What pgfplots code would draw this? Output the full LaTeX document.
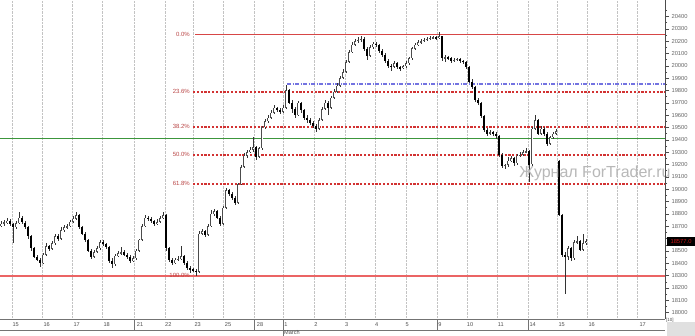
\documentclass[border=0pt]{standalone}
\usepackage{pgfplots}
\pgfplotsset{compat=1.18}
\usepackage{pgfplotstable}
\usepackage{fontspec}
\setmainfont{Liberation Sans}
\definecolor{fiblab}{RGB}{185,70,70}
\definecolor{fibtop}{RGB}{215,70,70}
\definecolor{fibdash}{RGB}{210,50,50}
\definecolor{fiblow}{RGB}{235,100,100}
\definecolor{supgreen}{RGB}{60,150,60}
\definecolor{bluedd}{RGB}{115,115,225}
\definecolor{gridc}{RGB}{195,195,195}
\pgfplotstableread{
x o h l c
1 18700 18740 18690 18720
4 18720 18750 18705 18730
7 18730 18770 18720 18745
10 18745 18760 18700 18720
13 18720 18730 18560 18690
16 18690 18740 18680 18725
19 18725 18815 18715 18770
22 18770 18780 18715 18730
25 18730 18745 18680 18690
28 18690 18700 18600 18620
31 18620 18630 18500 18520
34 18520 18535 18440 18450
37 18450 18470 18415 18430
40 18430 18445 18370 18400
43 18400 18480 18390 18470
46 18470 18560 18460 18540
49 18540 18550 18495 18515
52 18515 18580 18505 18560
55 18560 18640 18550 18620
58 18620 18635 18580 18600
61 18600 18690 18590 18670
64 18670 18710 18650 18690
67 18690 18720 18675 18700
70 18700 18750 18690 18735
73 18735 18780 18725 18760
76 18760 18815 18750 18790
79 18790 18800 18680 18690
82 18690 18705 18625 18640
85 18640 18655 18575 18590
88 18590 18600 18490 18500
91 18500 18515 18435 18450
94 18450 18505 18440 18490
97 18490 18540 18480 18520
100 18520 18590 18510 18570
103 18570 18590 18540 18555
106 18555 18565 18515 18530
109 18530 18540 18405 18420
112 18420 18440 18360 18390
115 18390 18475 18380 18460
118 18460 18500 18450 18480
121 18480 18530 18470 18490
124 18490 18505 18455 18470
127 18470 18485 18435 18450
130 18450 18465 18405 18420
133 18420 18455 18410 18440
136 18440 18515 18430 18500
139 18500 18600 18490 18590
142 18590 18720 18580 18700
145 18700 18790 18690 18770
148 18770 18785 18740 18760
151 18760 18775 18725 18740
154 18740 18750 18705 18720
157 18720 18755 18710 18735
160 18735 18785 18725 18765
163 18765 18815 18755 18790
166 18790 18795 18500 18520
169 18520 18530 18410 18430
172 18430 18445 18385 18400
175 18400 18445 18390 18430
178 18430 18460 18415 18435
181 18435 18540 18425 18455
184 18455 18470 18385 18400
187 18400 18415 18345 18360
190 18360 18375 18320 18350
193 18350 18365 18325 18340
196 18340 18350 18300 18330
199 18330 18660 18320 18640
202 18640 18680 18625 18660
205 18660 18670 18610 18630
208 18630 18715 18620 18700
211 18700 18830 18690 18800
214 18800 18840 18785 18820
217 18820 18830 18755 18770
220 18770 18780 18705 18720
223 18720 18860 18710 18850
226 18850 19010 18840 18990
229 18990 19000 18945 18960
232 18960 18975 18915 18930
235 18930 18945 18870 18890
238 18890 19050 18880 19040
241 19040 19195 19030 19180
244 19180 19290 19170 19270
247 19270 19320 19255 19300
250 19300 19345 19290 19320
253 19320 19420 19305 19340
256 19340 19350 19240 19260
259 19260 19345 19250 19330
262 19330 19510 19320 19500
265 19500 19570 19490 19550
268 19550 19600 19540 19580
271 19580 19640 19570 19620
274 19620 19680 19610 19660
277 19660 19670 19625 19640
280 19640 19655 19610 19625
283 19625 19680 19615 19660
286 19660 19845 19650 19800
289 19800 19810 19690 19700
292 19700 19720 19620 19650
295 19650 19665 19575 19600
298 19600 19715 19590 19700
301 19700 19710 19620 19640
304 19640 19650 19560 19580
307 19580 19600 19540 19560
310 19560 19575 19520 19540
313 19540 19555 19495 19510
316 19510 19525 19460 19490
319 19490 19575 19480 19560
322 19560 19665 19550 19650
325 19650 19720 19640 19700
328 19700 19715 19600 19660
331 19660 19755 19650 19740
334 19740 19810 19730 19790
337 19790 19860 19780 19840
340 19840 19920 19830 19900
343 19900 19970 19890 19950
346 19950 20045 19940 20030
349 20030 20130 20020 20110
352 20110 20190 20100 20170
355 20170 20220 20160 20200
358 20200 20235 20185 20210
361 20210 20245 20195 20220
364 20220 20230 20120 20140
367 20140 20155 20050 20080
370 20080 20165 20070 20150
373 20150 20195 20140 20180
376 20180 20190 20150 20170
379 20170 20180 20105 20120
382 20120 20135 20070 20090
385 20090 20100 20020 20040
388 20040 20055 19985 20000
391 20000 20015 19960 19990
394 19990 20035 19980 20020
397 20020 20030 19970 19990
400 19990 20000 19960 19980
403 19980 20010 19970 19995
406 19995 20035 19985 20020
409 20020 20075 20010 20060
412 20060 20150 20050 20140
415 20140 20185 20130 20170
418 20170 20205 20160 20190
421 20190 20215 20180 20200
424 20200 20225 20195 20210
427 20210 20235 20200 20220
430 20220 20240 20210 20225
433 20225 20245 20215 20230
436 20230 20240 20210 20225
439 20225 20275 20215 20240
442 20240 20245 20040 20060
445 20060 20085 20030 20070
448 20070 20080 20045 20060
451 20060 20070 20025 20040
454 20040 20065 20030 20050
457 20050 20065 20035 20055
460 20055 20065 20025 20040
463 20040 20050 20015 20030
466 20030 20040 19975 19990
469 19990 20000 19860 19870
472 19870 19890 19815 19830
475 19830 19840 19710 19720
478 19720 19735 19685 19700
481 19700 19710 19575 19590
484 19590 19600 19465 19480
487 19480 19495 19430 19450
490 19450 19480 19440 19460
493 19460 19470 19435 19450
496 19450 19465 19410 19430
499 19430 19440 19260 19280
502 19280 19290 19170 19190
505 19190 19205 19160 19195
508 19195 19260 19180 19230
511 19230 19270 19220 19250
514 19250 19260 19190 19210
517 19210 19285 19200 19270
520 19270 19300 19260 19280
523 19280 19320 19270 19300
526 19300 19330 19290 19310
529 19310 19320 19055 19200
532 19200 19500 19190 19490
535 19490 19600 19480 19560
538 19560 19570 19440 19450
541 19450 19510 19440 19490
544 19490 19500 19430 19450
547 19450 19460 19350 19370
550 19370 19435 19360 19420
553 19420 19465 19410 19450
556 19450 19485 19440 19470
559 19230 19235 18780 18790
562 18790 18800 18450 18470
565 18470 18490 18150 18450
568 18450 18540 18430 18520
571 18520 18530 18420 18440
574 18440 18590 18430 18570
577 18570 18620 18555 18580
580 18580 18590 18495 18510
583 18510 18640 18500 18560
586 18560 18600 18545 18577
}\candles
\begin{document}
\begin{tikzpicture}
\path[use as bounding box] (0pt,-17pt) rectangle (695pt,319pt);
\begin{axis}[
  at={(0pt,0pt)}, anchor=south west,
  width=665pt, height=319pt, scale only axis,
  xmin=0, xmax=665, ymin=17948, ymax=20533,
  axis line style={draw=none},
  clip=false,
  xtick={12,42,72,102,134,165,193,223,254,283,314,345,375,406,437,467,497,528,557,587,617,637},
  xticklabels={},
  x tick style={draw=none},
  xmajorgrids,
  major x grid style={gridc, densely dotted, line width=0.5pt},
  ytick={18000,18100,18200,18300,18400,18500,18700,18800,18900,19000,19100,19200,19300,19400,19500,19600,19700,19800,19900,20000,20100,20200,20300,20400},
  extra y ticks={18600}, extra y tick labels={},
  minor ytick={18050,18150,...,20450},
  scaled y ticks=false,
  ytick pos=right, yticklabel pos=right,
  tick align=outside,
  major tick length=4pt, minor tick length=2pt,
  y tick style={black!70, line width=0.4pt},
  extra y tick style={tick style={black!70}},
  yticklabel style={font=\fontsize{5.8}{6.5}\selectfont, text=black!60, xshift=-1pt},
  /pgf/number format/assume math mode=true,
  /pgf/number format/1000 sep={},
]
% fibonacci levels
\addplot[color=fiblow, line width=1.4pt, mark=none] coordinates {(0,18297) (665,18297)};
\addplot[color=fibtop, line width=1.1pt, mark=none] coordinates {(195,20250) (665,20250)};
\addplot[color=fibdash, line width=1.3pt, mark=none, dash pattern=on 2.2pt off 1.6pt] coordinates {(193,19788) (665,19788)};
\addplot[color=fibdash, line width=1.3pt, mark=none, dash pattern=on 2.2pt off 1.6pt] coordinates {(193,19505) (665,19505)};
\addplot[color=fibdash, line width=1.3pt, mark=none, dash pattern=on 2.2pt off 1.6pt] coordinates {(193,19278) (665,19278)};
\addplot[color=fibdash, line width=1.3pt, mark=none, dash pattern=on 2.2pt off 1.6pt] coordinates {(193,19043) (665,19043)};
\addplot[color=bluedd, line width=1.3pt, mark=none, dash pattern=on 4pt off 1.5pt on 1pt off 1.5pt] coordinates {(287,19853) (665,19853)};
\addplot[color=supgreen, line width=1.6pt, mark=none] coordinates {(0,19410) (665,19410)};
% candles: wicks
\addplot[draw=none, mark=none, error bars/.cd, y dir=both, y explicit, error mark=none,
  error bar style={draw=black!80, line width=0.85pt}]
  table[x=x, y expr={(\thisrow{h}+\thisrow{l})/2}, y error expr={(\thisrow{h}-\thisrow{l})/2}] {\candles};
% bullish bodies (outline)
\addplot[draw=none, mark=none, restrict expr to domain={\thisrow{c}-\thisrow{o}}{0:100000},
  error bars/.cd, y dir=both, y explicit, error mark=none,
  error bar style={draw=black!70, line width=2.6pt}]
  table[x=x, y expr={(\thisrow{o}+\thisrow{c})/2}, y error expr={(\thisrow{c}-\thisrow{o})/2}] {\candles};
% bullish bodies (hollow inside)
\addplot[draw=none, mark=none, restrict expr to domain={\thisrow{c}-\thisrow{o}}{14:100000},
  error bars/.cd, y dir=both, y explicit, error mark=none,
  error bar style={draw=white, line width=1.0pt}]
  table[x=x, y expr={(\thisrow{o}+\thisrow{c})/2}, y error expr={(\thisrow{c}-\thisrow{o})/2-5}] {\candles};
% bearish bodies
\addplot[draw=none, mark=none, restrict expr to domain={\thisrow{o}-\thisrow{c}}{0.5:100000},
  error bars/.cd, y dir=both, y explicit, error mark=none,
  error bar style={draw=black, line width=2.6pt}]
  table[x=x, y expr={(\thisrow{o}+\thisrow{c})/2}, y error expr={(\thisrow{o}-\thisrow{c})/2}] {\candles};
% fib labels
\begin{scope}[every node/.style={font=\fontsize{6}{7}\selectfont, text=fiblab, anchor=east, inner sep=0pt}]
\node at (axis cs:190,20250) {0.0\%};
\node at (axis cs:190,19788) {23.6\%};
\node at (axis cs:190,19505) {38.2\%};
\node at (axis cs:190,19278) {50.0\%};
\node at (axis cs:190,19043) {61.8\%};
\node at (axis cs:190,18297) {100.0\%};
\end{scope}
% watermark
\node[text=black!28, font=\fontsize{16}{18}\selectfont, inner sep=0pt] at (axis cs:595,19125) {Журнал ForTrader.ru};
% right axis line
\draw[black!70, line width=0.5pt] (axis cs:665,17948) -- (axis cs:665,20533);
% price label
\node[fill=black, text={rgb,255:red,200;green,20;blue,20}, font=\fontsize{5.8}{6.5}\selectfont, inner sep=0pt, minimum width=28pt, minimum height=8.3pt] at (axis cs:681,18577) {18577.0};
\end{axis}
% date strip
\draw[black!55, line width=0.5pt] (0pt,0pt) -- (665pt,0pt);
\draw[black!55, line width=0.5pt] (0pt,-11pt) -- (665pt,-11pt);
\foreach \s in {134,254,437,528} {\draw[black!55, line width=0.5pt] (\s pt,0pt) -- (\s pt,-11pt);}
\draw[black!55, line width=0.5pt] (283pt,0pt) -- (283pt,-17pt);
\fill[black!12] (667pt,-17pt) rectangle (695pt,-3pt);
\node[font=\fontsize{4.5}{5}\selectfont, text=black!70, anchor=west, inner sep=0pt] at (666pt,-1pt) {[10]};
\begin{scope}[every node/.style={font=\fontsize{5.6}{6.5}\selectfont, text=black!70, inner sep=0pt}]
\node at (15.7pt,-5.5pt) {15};
\node at (46.7pt,-5.5pt) {16};
\node at (76.7pt,-5.5pt) {17};
\node at (106.7pt,-5.5pt) {18};
\node at (140pt,-5.5pt) {21};
\node at (168.3pt,-5.5pt) {22};
\node at (197.7pt,-5.5pt) {23};
\node at (228pt,-5.5pt) {25};
\node at (260pt,-5.5pt) {28};
\node at (286pt,-5.5pt) {1};
\node at (316pt,-5.5pt) {2};
\node at (346.7pt,-5.5pt) {3};
\node at (376.7pt,-5.5pt) {4};
\node at (407.3pt,-5.5pt) {5};
\node at (440pt,-5.5pt) {9};
\node at (470pt,-5.5pt) {10};
\node at (500.7pt,-5.5pt) {11};
\node at (532.7pt,-5.5pt) {14};
\node at (561.7pt,-5.5pt) {15};
\node at (591.7pt,-5.5pt) {16};
\node at (642.7pt,-5.5pt) {17};
\node[anchor=west] at (284pt,-14pt) {March};
\end{scope}
\end{tikzpicture}
\end{document}
